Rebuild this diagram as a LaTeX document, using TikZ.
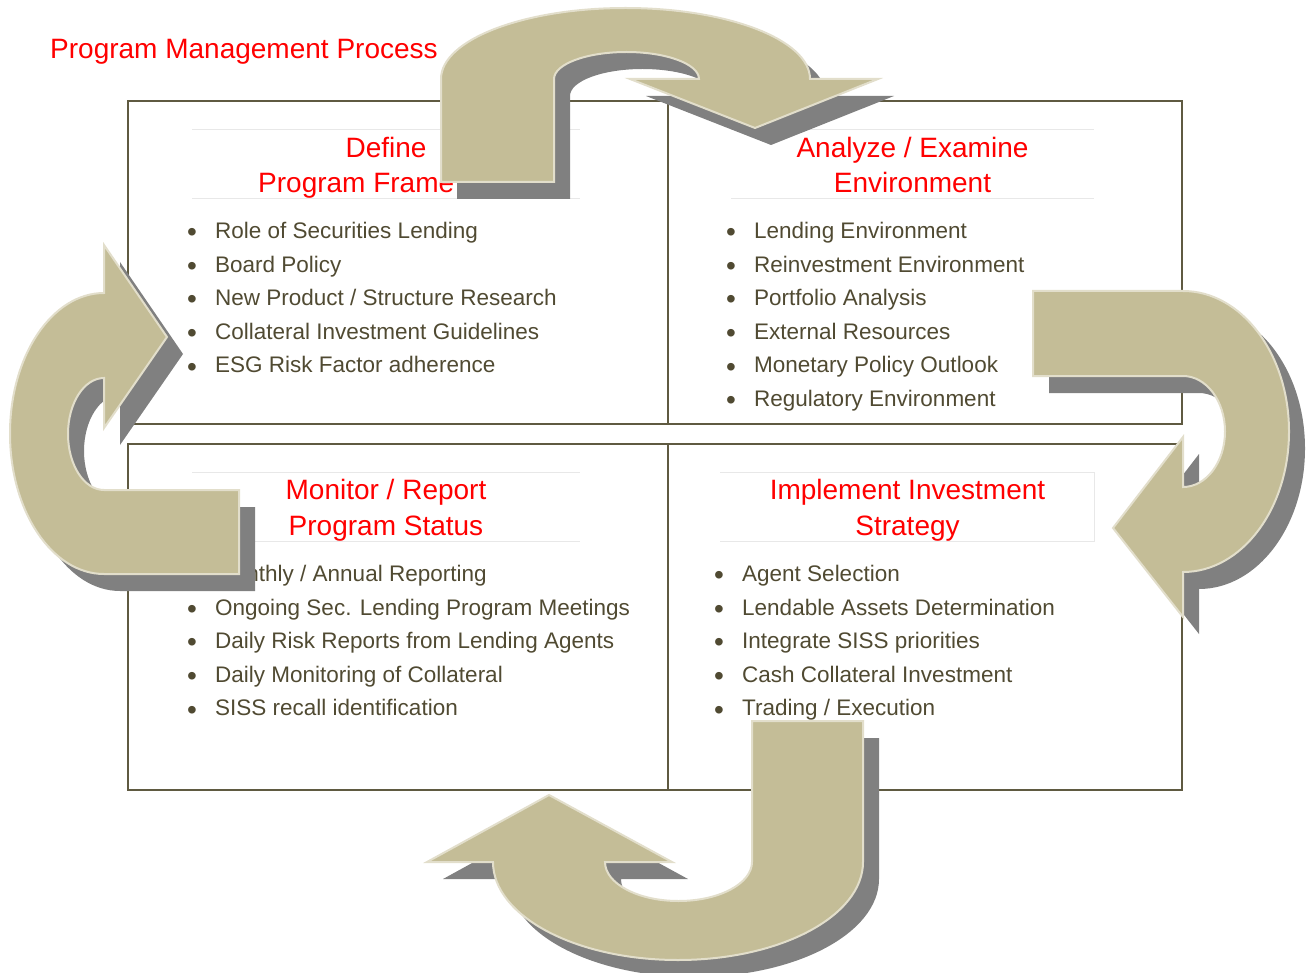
\documentclass[tikz,border=0pt]{standalone}
\usepackage{fontspec}
\setmainfont{Liberation Sans}
\definecolor{tanfill}{HTML}{C4BD97}
\definecolor{tanedge}{HTML}{E2DECB}
\definecolor{shade}{HTML}{808080}
\definecolor{boxline}{RGB}{95,90,65}
\definecolor{bodytext}{RGB}{80,74,50}
\definecolor{titlered}{HTML}{FF0000}
\definecolor{faint}{HTML}{E8E8E8}
\newcommand{\bitem}{\makebox[28pt][l]{\raisebox{-3.2pt}{\fontsize{28}{28}\selectfont\textbullet}}}
\begin{document}
\begin{tikzpicture}[x=1pt,y=-1pt,
  quad/.style={draw=boxline, line width=1.4pt},
  titleline/.style={draw=faint, line width=0.8pt},
  ttl/.style={text=titlered, font=\fontsize{28}{35.5}\selectfont, inner sep=0pt, anchor=base},
  lst/.style={text=bodytext, font=\fontsize{22.5}{33.6}\selectfont, inner sep=0pt, anchor=base west},
  arrowshadow/.style={fill=shade, shift={(16,17)}},
  arrowbody/.style={fill=tanfill, draw=tanedge, line width=2pt, line join=miter},
  toparrow/.style={insert path={(441,182) -- (441,79)
      arc[start angle=180, end angle=0, x radius=184.5pt, y radius=71pt]
      -- (878,79) -- (755,128) -- (630,79) -- (699,79)
      arc[start angle=0, end angle=180, x radius=72.5pt, y radius=27pt]
      -- (554,182) -- cycle}},
  leftarrow/.style={insert path={(104,245) -- (167,337) -- (104,428) -- (104,378)
      arc[start angle=90, end angle=270, x radius=36pt, y radius=56pt]
      -- (239,490) -- (239,574) -- (104,574)
      arc[start angle=270, end angle=90, x radius=94pt, y radius=140.5pt]
      -- cycle}},
  rightarrow/.style={insert path={(1033,291) -- (1183,291)
      arc[start angle=90, end angle=-90, x radius=106pt, y radius=140.5pt]
      -- (1183,617) -- (1113,528) -- (1183,437) -- (1183,487)
      arc[start angle=-90, end angle=90, x radius=42pt, y radius=55.5pt]
      -- (1033,376) -- cycle}},
  bottomarrow/.style={insert path={(752,721) -- (863,721) -- (863,862)
      arc[start angle=0, end angle=-180, x radius=185pt, y radius=98pt]
      -- (427,862) -- (549,795) -- (672,862) -- (605,862)
      arc[start angle=180, end angle=360, x radius=73.5pt, y radius=39pt]
      -- cycle}},
]
\useasboundingbox (0,0) rectangle (1311,973);

% quadrant frames
\draw[quad] (128,101) rectangle (1182,424);
\draw[quad] (668,101) -- (668,424);
\draw[quad] (128,444) rectangle (1182,790);
\draw[quad] (668,444) -- (668,790);

% faint title frames
\draw[titleline] (192,129) -- (580,129) (192,198) -- (580,198);
\draw[titleline] (731,129) -- (1094,129) (731,198) -- (1094,198);
\draw[titleline] (192,472) -- (580,472) (192,541) -- (580,541);
\draw[titleline] (720,472) -- (1094,472) -- (1094,541) -- (720,541);

% main title
\node[text=titlered, font=\fontsize{28}{34}\selectfont, inner sep=0pt, anchor=base west] (main) at (50,59) {Program Management Process};

% quadrant titles
\node[ttl] (tdefine) at (386,157.5) {Define};
\node[ttl, anchor=base west] (tframe) at (258,193) {Program Frame};
\node[ttl] (tanalyze) at (912.5,157.5) {\begin{tabular}[t]{@{}c@{}}Analyze / Examine\\Environment\end{tabular}};
\node[ttl] (tmonitor) at (386,499.5) {\begin{tabular}[t]{@{}c@{}}Monitor / Report\\Program Status\end{tabular}};
\node[ttl] (timplement) at (907.5,499.5) {\begin{tabular}[t]{@{}c@{}}Implement Investment\\Strategy\end{tabular}};

% lists
\node[lst] (ldefine) at (187,238.5) {\begin{tabular}[t]{@{}l@{}}
\bitem Role of Securities Lending\\
\bitem Board Policy\\
\bitem New Product / Structure Research\\
\bitem Collateral Investment Guidelines\\
\bitem ESG Risk Factor adherence
\end{tabular}};
\node[lst] (lanalyze) at (726,238.5) {\begin{tabular}[t]{@{}l@{}}
\bitem Lending Environment\\
\bitem Reinvestment Environment\\
\bitem Portfolio Analysis\\
\bitem External Resources\\
\bitem Monetary Policy Outlook\\
\bitem Regulatory Environment
\end{tabular}};
\node[lst] (lmonitor) at (187,581.5) {\begin{tabular}[t]{@{}l@{}}
\bitem Monthly / Annual Reporting\\
\bitem Ongoing Sec. Lending Program Meetings\\
\bitem Daily Risk Reports from Lending Agents\\
\bitem Daily Monitoring of Collateral\\
\bitem SISS recall identification
\end{tabular}};
\node[lst] (limplement) at (714,581.5) {\begin{tabular}[t]{@{}l@{}}
\bitem Agent Selection\\
\bitem Lendable Assets Determination\\
\bitem Integrate SISS priorities\\
\bitem Cash Collateral Investment\\
\bitem Trading / Execution
\end{tabular}};

% cycle arrows (shadow, then body)
\fill[arrowshadow, toparrow];
\filldraw[arrowbody, toparrow];
\fill[arrowshadow, rightarrow];
\filldraw[arrowbody, rightarrow];
\fill[arrowshadow, bottomarrow];
\filldraw[arrowbody, bottomarrow];
\fill[arrowshadow, leftarrow];
\filldraw[arrowbody, leftarrow];
\end{tikzpicture}
\end{document}
